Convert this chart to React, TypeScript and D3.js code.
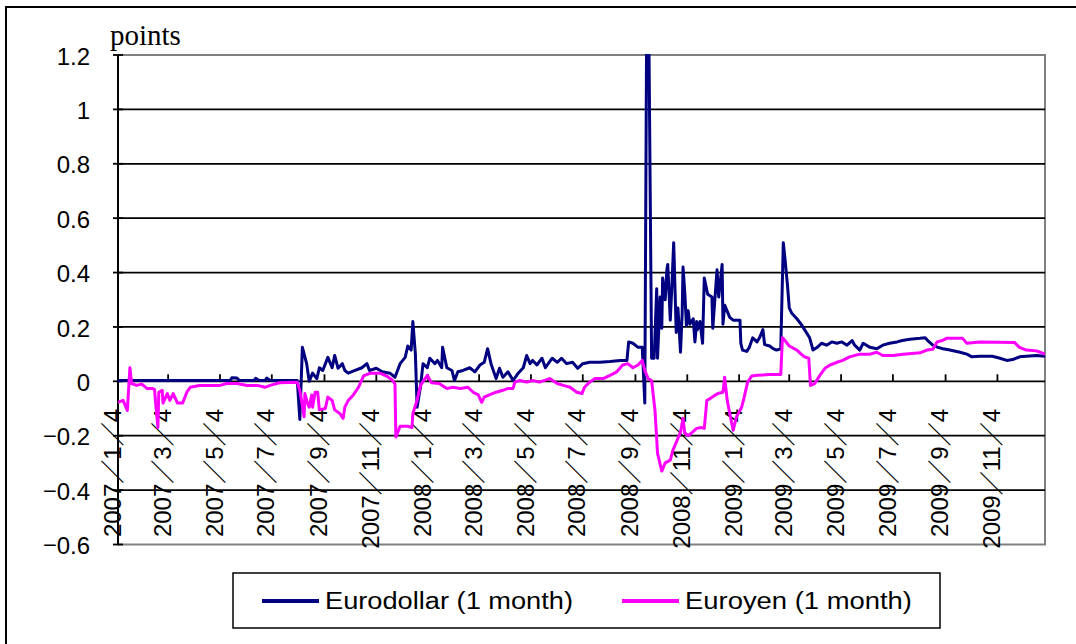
import React from "react";
import * as d3 from "d3";

// ---------- data ----------
const tickDates = [
  "2007-01-04", "2007-03-04", "2007-05-04", "2007-07-04", "2007-09-04", "2007-11-04",
  "2008-01-04", "2008-03-04", "2008-05-04", "2008-07-04", "2008-09-04", "2008-11-04",
  "2009-01-04", "2009-03-04", "2009-05-04", "2009-07-04", "2009-09-04", "2009-11-04",
];
const tickLabels = [
  "2007/1/4", "2007/3/4", "2007/5/4", "2007/7/4", "2007/9/4", "2007/11/4",
  "2008/1/4", "2008/3/4", "2008/5/4", "2008/7/4", "2008/9/4", "2008/11/4",
  "2009/1/4", "2009/3/4", "2009/5/4", "2009/7/4", "2009/9/4", "2009/11/4",
];
const yTicks = [1.2, 1, 0.8, 0.6, 0.4, 0.2, 0, -0.2, -0.4, -0.6];
const yTickLabels = ["1.2", "1", "0.8", "0.6", "0.4", "0.2", "0", "−0.2", "−0.4", "−0.6"];

const seriesNames = ["Eurodollar (1 month)", "Euroyen (1 month)"];
const seriesColors = ["#000080", "#FF00FF"];

const eurodollar: [string, number][] = [
  ["2007-01-04", 0.003], ["2007-05-16", 0.003], ["2007-05-18", 0.013], ["2007-05-24", 0.012],
  ["2007-05-27", 0.003], ["2007-06-13", 0.003], ["2007-06-15", 0.011], ["2007-06-19", 0.003],
  ["2007-06-26", 0.003], ["2007-06-28", 0.012], ["2007-07-02", 0.003], ["2007-08-03", 0.003],
  ["2007-08-06", -0.14], ["2007-08-09", 0.125], ["2007-08-14", 0.065], ["2007-08-17", 0.0],
  ["2007-08-21", 0.03], ["2007-08-26", 0.01], ["2007-08-29", 0.05], ["2007-09-02", 0.04],
  ["2007-09-08", 0.088], ["2007-09-13", 0.05], ["2007-09-16", 0.095], ["2007-09-20", 0.048],
  ["2007-09-25", 0.065], ["2007-09-28", 0.04], ["2007-10-02", 0.03], ["2007-10-10", 0.04],
  ["2007-10-18", 0.05], ["2007-10-24", 0.065], ["2007-10-27", 0.04], ["2007-11-04", 0.048],
  ["2007-11-11", 0.035], ["2007-11-20", 0.03], ["2007-11-26", 0.015], ["2007-12-02", 0.065],
  ["2007-12-08", 0.088], ["2007-12-11", 0.13], ["2007-12-15", 0.115], ["2007-12-17", 0.22],
  ["2007-12-20", 0.1], ["2007-12-22", -0.095], ["2007-12-26", -0.02], ["2007-12-29", 0.065],
  ["2008-01-03", 0.05], ["2008-01-06", 0.085], ["2008-01-12", 0.065], ["2008-01-15", 0.077],
  ["2008-01-20", 0.05], ["2008-01-21", 0.125], ["2008-01-26", 0.05], ["2008-02-01", 0.04],
  ["2008-02-04", 0.003], ["2008-02-08", 0.035], ["2008-02-14", 0.04], ["2008-02-22", 0.05],
  ["2008-02-28", 0.035], ["2008-03-05", 0.06], ["2008-03-10", 0.07], ["2008-03-14", 0.12],
  ["2008-03-18", 0.065], ["2008-03-24", 0.01], ["2008-03-28", 0.048], ["2008-04-01", 0.015],
  ["2008-04-07", 0.035], ["2008-04-13", 0.003], ["2008-04-19", 0.03], ["2008-04-25", 0.05],
  ["2008-04-29", 0.095], ["2008-05-03", 0.065], ["2008-05-06", 0.077], ["2008-05-11", 0.06],
  ["2008-05-17", 0.085], ["2008-05-21", 0.05], ["2008-05-29", 0.085], ["2008-06-04", 0.07],
  ["2008-06-09", 0.085], ["2008-06-15", 0.065], ["2008-06-22", 0.07], ["2008-06-28", 0.048],
  ["2008-07-04", 0.065], ["2008-07-12", 0.07], ["2008-07-24", 0.07], ["2008-08-05", 0.073],
  ["2008-08-17", 0.077], ["2008-08-25", 0.077], ["2008-08-27", 0.145], ["2008-09-01", 0.14],
  ["2008-09-07", 0.125], ["2008-09-12", 0.125], ["2008-09-15", -0.08], ["2008-09-17", 1.2],
  ["2008-09-20", 1.2], ["2008-09-23", 0.085], ["2008-09-26", 0.085], ["2008-09-29", 0.34],
  ["2008-09-30", 0.085], ["2008-10-03", 0.31], ["2008-10-05", 0.195], ["2008-10-06", 0.38],
  ["2008-10-09", 0.3], ["2008-10-11", 0.41], ["2008-10-12", 0.43], ["2008-10-15", 0.225],
  ["2008-10-17", 0.36], ["2008-10-19", 0.51], ["2008-10-22", 0.18], ["2008-10-24", 0.27],
  ["2008-10-27", 0.107], ["2008-10-29", 0.25], ["2008-10-30", 0.42], ["2008-11-01", 0.33],
  ["2008-11-03", 0.205], ["2008-11-05", 0.26], ["2008-11-07", 0.21], ["2008-11-11", 0.23],
  ["2008-11-13", 0.145], ["2008-11-15", 0.22], ["2008-11-16", 0.19], ["2008-11-19", 0.22],
  ["2008-11-22", 0.14], ["2008-11-24", 0.38], ["2008-11-28", 0.32], ["2008-12-03", 0.31],
  ["2008-12-04", 0.195], ["2008-12-09", 0.41], ["2008-12-11", 0.31], ["2008-12-15", 0.43],
  ["2008-12-16", 0.21], ["2008-12-18", 0.28], ["2008-12-24", 0.235], ["2008-12-28", 0.225],
  ["2009-01-05", 0.225], ["2009-01-06", 0.14], ["2009-01-08", 0.115], ["2009-01-13", 0.11],
  ["2009-01-16", 0.125], ["2009-01-20", 0.16], ["2009-01-25", 0.145], ["2009-01-28", 0.16],
  ["2009-02-01", 0.19], ["2009-02-03", 0.135], ["2009-02-09", 0.13], ["2009-02-13", 0.12],
  ["2009-02-17", 0.115], ["2009-02-22", 0.12], ["2009-02-25", 0.51], ["2009-02-27", 0.45],
  ["2009-03-02", 0.35], ["2009-03-04", 0.27], ["2009-03-07", 0.25], ["2009-03-13", 0.23],
  ["2009-03-18", 0.21], ["2009-03-22", 0.19], ["2009-03-28", 0.16], ["2009-04-01", 0.115],
  ["2009-04-06", 0.125], ["2009-04-11", 0.14], ["2009-04-17", 0.133], ["2009-04-23", 0.145],
  ["2009-04-29", 0.14], ["2009-05-05", 0.145], ["2009-05-11", 0.133], ["2009-05-17", 0.15],
  ["2009-05-20", 0.133], ["2009-05-26", 0.115], ["2009-05-30", 0.14], ["2009-06-07", 0.125],
  ["2009-06-15", 0.12], ["2009-06-22", 0.133], ["2009-06-30", 0.14], ["2009-07-09", 0.145],
  ["2009-07-15", 0.15], ["2009-07-24", 0.155], ["2009-08-05", 0.158], ["2009-08-11", 0.16],
  ["2009-08-14", 0.15], ["2009-08-20", 0.133], ["2009-08-26", 0.125], ["2009-09-01", 0.12],
  ["2009-09-09", 0.115], ["2009-09-21", 0.107], ["2009-09-29", 0.1], ["2009-10-05", 0.09],
  ["2009-10-14", 0.092], ["2009-10-29", 0.092], ["2009-11-07", 0.085], ["2009-11-15", 0.077],
  ["2009-11-22", 0.08], ["2009-11-30", 0.09], ["2009-12-08", 0.092], ["2009-12-20", 0.095],
  ["2009-12-30", 0.092],
];

const euroyen: [string, number][] = [
  ["2007-01-04", -0.077], ["2007-01-10", -0.07], ["2007-01-15", -0.107], ["2007-01-18", 0.05],
  ["2007-01-20", -0.008], ["2007-01-26", -0.015], ["2007-02-01", -0.01], ["2007-02-07", -0.026],
  ["2007-02-13", -0.026], ["2007-02-16", -0.03], ["2007-02-17", -0.07], ["2007-02-20", -0.17],
  ["2007-02-21", -0.04], ["2007-02-25", -0.033], ["2007-02-26", -0.08], ["2007-03-03", -0.045],
  ["2007-03-06", -0.07], ["2007-03-10", -0.045], ["2007-03-15", -0.08], ["2007-03-21", -0.08],
  ["2007-03-26", -0.04], ["2007-03-30", -0.022], ["2007-04-10", -0.015], ["2007-05-04", -0.015],
  ["2007-05-12", -0.008], ["2007-05-24", -0.008], ["2007-06-05", -0.015], ["2007-06-17", -0.015],
  ["2007-06-26", -0.022], ["2007-07-02", -0.015], ["2007-07-13", -0.005], ["2007-08-03", -0.003],
  ["2007-08-06", -0.035], ["2007-08-08", -0.07], ["2007-08-11", -0.13], ["2007-08-12", -0.045],
  ["2007-08-15", -0.08], ["2007-08-17", -0.095], ["2007-08-20", -0.05], ["2007-08-21", -0.095],
  ["2007-08-24", -0.04], ["2007-08-27", -0.04], ["2007-08-29", -0.105], ["2007-09-05", -0.1],
  ["2007-09-08", -0.058], ["2007-09-13", -0.07], ["2007-09-16", -0.105], ["2007-09-22", -0.118],
  ["2007-09-26", -0.136], ["2007-09-28", -0.095], ["2007-10-02", -0.07], ["2007-10-08", -0.05],
  ["2007-10-14", -0.022], ["2007-10-20", 0.02], ["2007-10-28", 0.03], ["2007-11-08", 0.03],
  ["2007-11-17", 0.018], ["2007-11-23", 0.004], ["2007-11-26", -0.01], ["2007-11-27", -0.205],
  ["2007-12-02", -0.165], ["2007-12-11", -0.165], ["2007-12-16", -0.17], ["2007-12-17", -0.118],
  ["2007-12-22", -0.07], ["2007-12-26", -0.015], ["2008-01-03", 0.022], ["2008-01-08", -0.005],
  ["2008-01-17", -0.008], ["2008-01-26", -0.026], ["2008-02-02", -0.022], ["2008-02-11", -0.026],
  ["2008-02-20", -0.022], ["2008-02-26", -0.04], ["2008-03-03", -0.05], ["2008-03-07", -0.077],
  ["2008-03-10", -0.058], ["2008-03-16", -0.05], ["2008-03-24", -0.04], ["2008-04-01", -0.033],
  ["2008-04-07", -0.026], ["2008-04-13", -0.026], ["2008-04-15", -0.003], ["2008-04-21", 0.003],
  ["2008-04-29", -0.003], ["2008-05-06", 0.003], ["2008-05-14", -0.003], ["2008-05-26", 0.01],
  ["2008-06-04", -0.008], ["2008-06-11", -0.015], ["2008-06-19", -0.022], ["2008-06-27", -0.04],
  ["2008-07-03", -0.045], ["2008-07-06", -0.022], ["2008-07-12", -0.003], ["2008-07-18", 0.01],
  ["2008-07-28", 0.01], ["2008-08-05", 0.022], ["2008-08-13", 0.035], ["2008-08-20", 0.06],
  ["2008-08-26", 0.065], ["2008-09-01", 0.05], ["2008-09-07", 0.06], ["2008-09-12", 0.077],
  ["2008-09-15", 0.04], ["2008-09-19", 0.01], ["2008-09-23", 0.003], ["2008-09-27", -0.107],
  ["2008-09-30", -0.265], ["2008-10-05", -0.33], ["2008-10-09", -0.3], ["2008-10-15", -0.29],
  ["2008-10-18", -0.254], ["2008-10-23", -0.217], ["2008-10-27", -0.187], ["2008-10-30", -0.136],
  ["2008-11-01", -0.19], ["2008-11-05", -0.2], ["2008-11-09", -0.19], ["2008-11-15", -0.173],
  ["2008-11-21", -0.17], ["2008-11-24", -0.173], ["2008-11-27", -0.07], ["2008-11-30", -0.065],
  ["2008-12-07", -0.05], ["2008-12-10", -0.045], ["2008-12-16", -0.04], ["2008-12-18", 0.015],
  ["2008-12-21", -0.07], ["2008-12-24", -0.118], ["2008-12-28", -0.18], ["2009-01-01", -0.13],
  ["2009-01-07", -0.095], ["2009-01-10", -0.058], ["2009-01-14", -0.003], ["2009-01-19", 0.02],
  ["2009-01-25", 0.022], ["2009-02-09", 0.025], ["2009-02-22", 0.025], ["2009-02-24", 0.16],
  ["2009-02-27", 0.15], ["2009-03-04", 0.13], ["2009-03-13", 0.115], ["2009-03-18", 0.1],
  ["2009-03-22", 0.09], ["2009-03-27", 0.085], ["2009-03-29", -0.015], ["2009-04-03", -0.008],
  ["2009-04-09", 0.022], ["2009-04-15", 0.048], ["2009-04-21", 0.06], ["2009-04-29", 0.07],
  ["2009-05-06", 0.077], ["2009-05-14", 0.09], ["2009-05-26", 0.1], ["2009-06-07", 0.1],
  ["2009-06-15", 0.107], ["2009-06-22", 0.095], ["2009-07-04", 0.095], ["2009-07-16", 0.1],
  ["2009-08-05", 0.105], ["2009-08-13", 0.115], ["2009-08-20", 0.118], ["2009-08-25", 0.145],
  ["2009-08-31", 0.15], ["2009-09-05", 0.158], ["2009-09-24", 0.158], ["2009-09-29", 0.14],
  ["2009-10-14", 0.145], ["2009-11-24", 0.143], ["2009-11-30", 0.125], ["2009-12-08", 0.115],
  ["2009-12-20", 0.112], ["2009-12-30", 0.1],
];

// ---------- layout ----------
const W = 1076;
const H = 644;
const plotLeft = 118;
const plotRight = 1045;
const plotTop = 55;
const plotBottom = 544.5;
const sansFont = "'Liberation Sans', 'Noto Sans CJK JP', sans-serif";
const cjkFont = "'Noto Sans CJK JP', sans-serif";
const legendTextWidths = [248, 227];

const parse = d3.timeParse("%Y-%m-%d");

// date label: digits in Liberation Sans, slashes drawn with the wide full-width glyph (as in the source)
function DateLabel({ text }: { text: string }) {
  const parts = text.split("/");
  const out: React.ReactNode[] = [];
  parts.forEach((p, i) => {
    if (i > 0)
      out.push(
        <tspan key={"s" + i} fontFamily={cjkFont} fontWeight={700}>
          ／
        </tspan>
      );
    out.push(<tspan key={"p" + i}>{p}</tspan>);
  });
  return <>{out}</>;
}

function NumLabel({ text }: { text: string }) {
  if (text.startsWith("−")) {
    return (
      <>
        <tspan fontFamily={cjkFont} style={{ fontFeatureSettings: '"fwid"' }}>
          −
        </tspan>
        <tspan>{text.slice(1)}</tspan>
      </>
    );
  }
  return <>{text}</>;
}

export default function App() {
  const x = d3
    .scaleTime()
    .domain([parse("2007-01-04") as Date, parse("2009-12-30") as Date])
    .range([plotLeft, plotRight]);
  const y = d3.scaleLinear().domain([-0.6, 1.2]).range([plotBottom, plotTop]);

  const line = d3
    .line<[string, number]>()
    .x((d) => x(parse(d[0]) as Date))
    .y((d) => y(d[1]));

  const series = [eurodollar, euroyen];
  const y0 = y(0);

  return (
    <svg
      width={W}
      height={H}
      style={{ position: "absolute", left: 0, top: 0, background: "#fff" }}
    >
      <defs>
        <clipPath id="plotClip">
          <rect x={plotLeft} y={plotTop - 1} width={plotRight - plotLeft} height={plotBottom - plotTop + 2} />
        </clipPath>
      </defs>
      {/* outer chart border */}
      <rect x={6} y={7} width={W + 20} height={H + 20} fill="#fff" stroke="#000" strokeWidth={2} />

      {/* plot area */}
      <rect x={plotLeft} y={plotTop} width={plotRight - plotLeft} height={plotBottom - plotTop} fill="#fff" stroke="#808080" strokeWidth={2} />

      {/* gridlines */}
      {yTicks
        .filter((v) => v !== 1.2 && v !== -0.6 && v !== 0)
        .map((v) => (
          <line key={v} x1={plotLeft} x2={plotRight} y1={y(v)} y2={y(v)} stroke="#000" strokeWidth={1.8} />
        ))}

      {/* y axis */}
      <line x1={plotLeft} x2={plotLeft} y1={plotTop} y2={plotBottom} stroke="#000" strokeWidth={2} />
      {yTicks.map((v) => (
        <line key={"yt" + v} x1={plotLeft - 5} x2={plotLeft + 5} y1={y(v)} y2={y(v)} stroke="#000" strokeWidth={1.8} />
      ))}
      {yTicks.map((v, i) => (
        <text
          key={"yl" + v}
          x={90}
          y={y(v) + 1}
          dy="0.36em"
          textAnchor="end"
          fontFamily={sansFont}
          fontSize={24}
          fill="#000"
        >
          <NumLabel text={yTickLabels[i]} />
        </text>
      ))}

      {/* x axis at 0 */}
      <line x1={plotLeft} x2={plotRight} y1={y0} y2={y0} stroke="#000" strokeWidth={1.8} />
      {tickDates.map((d) => {
        const tx = x(parse(d) as Date);
        return <line key={"xt" + d} x1={tx} x2={tx} y1={y0} y2={y0 - 7} stroke="#000" strokeWidth={1.8} />;
      })}
      {tickDates.map((d, i) => {
        const tx = x(parse(d) as Date) - 6;
        return (
          <text
            key={"xl" + d}
            transform={`translate(${tx},${409}) rotate(-90)`}
            textAnchor="end"
            dy="0.36em"
            fontFamily={sansFont}
            fontSize={24}
            fill="#000"
          >
            <DateLabel text={tickLabels[i]} />
          </text>
        );
      })}

      {/* series */}
      <g clipPath="url(#plotClip)">
        {series.map((s, i) => (
          <path
            key={seriesNames[i]}
            d={line(s) || ""}
            fill="none"
            stroke={seriesColors[i]}
            strokeWidth={3}
            strokeLinejoin="round"
          />
        ))}
      </g>

      {/* unit label */}
      <text x={110} y={45} fontFamily="'Liberation Serif', 'Times New Roman', serif" fontSize={29} fill="#000">
        points
      </text>

      {/* legend */}
      <rect x={233} y={573} width={707} height={55} fill="#fff" stroke="#000" strokeWidth={1.5} />
      {[0, 1].map((i) => {
        const lx = i === 0 ? 262 : 622;
        return (
          <g key={"lg" + i}>
            <line x1={lx} x2={lx + 57} y1={601} y2={601} stroke={seriesColors[i]} strokeWidth={4} />
            <text
              x={lx + 63}
              y={601}
              dy="0.36em"
              fontFamily={sansFont}
              fontSize={23}
              textLength={legendTextWidths[i]}
              lengthAdjust="spacingAndGlyphs"
              fill="#000"
            >
              {seriesNames[i]}
            </text>
          </g>
        );
      })}
    </svg>
  );
}
